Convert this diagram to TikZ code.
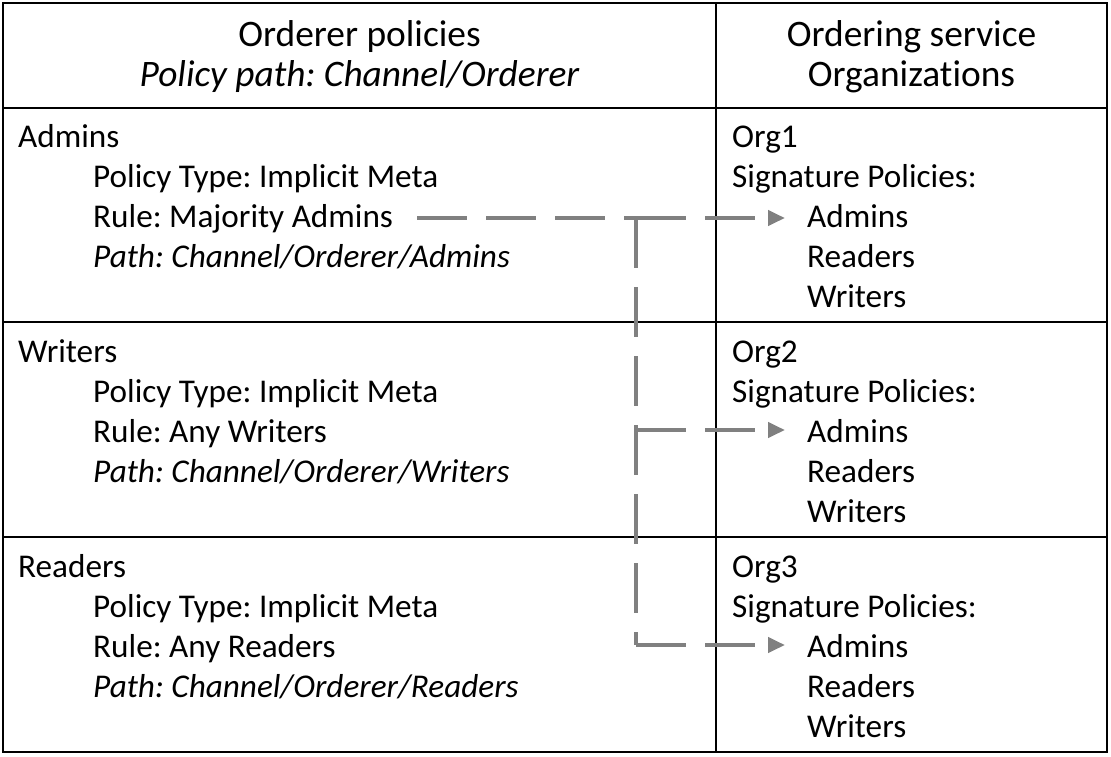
\documentclass[tikz,border=0pt]{standalone}
\usepackage{fontspec}
\setmainfont[RawFeature=-liga]{Carlito}
\usetikzlibrary{arrows.meta}
\definecolor{conngray}{RGB}{128,128,128}
\frenchspacing
\begin{document}
\begin{tikzpicture}[x=1pt,y=-1pt,
  txt/.style={anchor=base west,inner sep=0pt,font=\fontsize{33.2}{40}\selectfont},
  hdr/.style={anchor=base,inner sep=0pt,font=\fontsize{37.4}{44}\selectfont},
  gridline/.style={line width=2pt,black},
  frameline/.style={line width=2.6pt,black},
  conn/.style={draw=conngray,line width=4pt,dash pattern=on 50pt off 19pt},
  tipped/.style={-{Triangle[length=17pt,width=15pt]}}
]
\useasboundingbox (0,0) rectangle (1111,756);
\fill[white] (0,0) rectangle (1111,756);

% grid
\draw[gridline] (3,108) -- (1107,108);
\draw[gridline] (3,322) -- (1107,322);
\draw[gridline] (3,537) -- (1107,537);
\draw[gridline] (716,3) -- (716,752);
\draw[frameline] (3,3) rectangle (1107,752);

% headers
\node[hdr] (h1) at (359.5,46) {Orderer policies};
\node[hdr] (h2) at (359.5,86) {\itshape Policy path: Channel/Orderer};
\node[hdr] (h3) at (911.5,46) {Ordering service};
\node[hdr] (h4) at (911.5,86) {Organizations};

% left column
\foreach \n/\t/\r [count=\i from 0] in {1/Admins/Majority Admins,2/Writers/Any Writers,3/Readers/Any Readers}{
  \pgfmathsetmacro{\b}{147+215.25*\i}
  \node[txt] (l\n a) at (18,\b) {\t};
  \node[txt] (l\n b) at (93,\b+40) {Policy Type: Implicit Meta};
  \node[txt] (l\n c) at (93,\b+80) {Rule: \r};
  \node[txt] (l\n d) at (93,\b+120) {\itshape Path: Channel/Orderer/\t};
  \node[txt] (o\n a) at (732,\b) {Org\n};
  \node[txt] (o\n b) at (732,\b+40) {Signature Policies:};
  \node[txt] (o\n c) at (807,\b+80) {Admins};
  \node[txt] (o\n d) at (807,\b+120) {Readers};
  \node[txt] (o\n e) at (807,\b+160) {Writers};
}

% connectors
\coordinate (S) at (417,218);
\coordinate (J1) at (636,218);
\coordinate (J2) at (636,430);
\coordinate (J3) at (636,645);
\coordinate (T1) at (785,218);
\coordinate (T2) at (785,430);
\coordinate (T3) at (785,645);
\draw[conn] (S) -- (J1);
\draw[conn] (J1) -- (J3);
\draw[conn,tipped] (J1) -- (T1);
\draw[conn,tipped] (J2) -- (T2);
\draw[conn,tipped] (J3) -- (T3);
\end{tikzpicture}
\end{document}
